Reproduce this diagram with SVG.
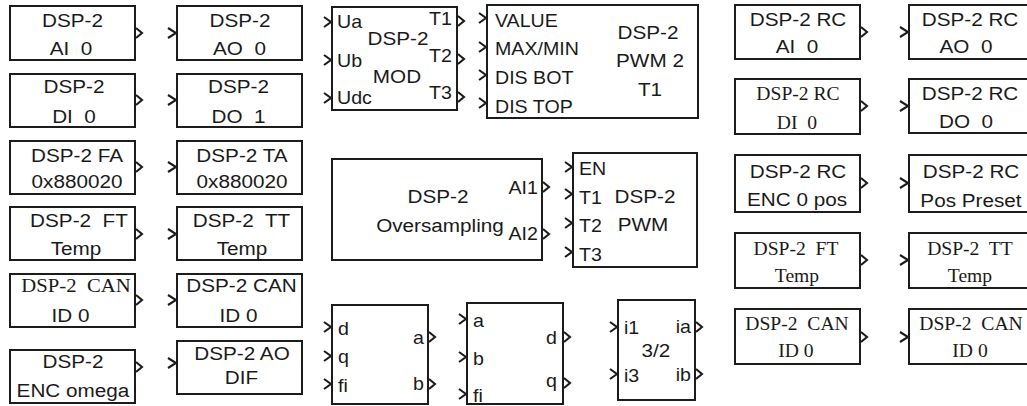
<svg xmlns="http://www.w3.org/2000/svg" width="1027" height="406" viewBox="0 0 1027 406">
<style>
.b{fill:#fff;stroke:#1c1c1c;stroke-width:2}
.p{fill:none;stroke:#1c1c1c;stroke-width:2.1}
text{fill:#1a1a1a;transform-box:fill-box;white-space:pre}
.s{font-family:"Liberation Sans",Arial,sans-serif;font-size:19px}
.r{font-family:"Liberation Serif","Times New Roman",serif;font-size:18px}
.r19{font-family:"Liberation Serif","Times New Roman",serif;font-size:19px}
.q{font-family:"Liberation Sans",Arial,sans-serif;font-size:18px}
.m{text-anchor:middle;transform-origin:center;transform:scaleX(1.09)}
.l{transform-origin:left;transform:scaleX(1.09)}
.e{text-anchor:end;transform-origin:right;transform:scaleX(1.09)}
</style>
<rect width="1027" height="406" fill="#fff"/>
<g id="connectors"/>

<g id="dsp2-ai0">
<rect class="b" x="10" y="6" width="125" height="54"/>
<text class="s m" x="72.5" y="27">DSP-2</text>
<text class="s m" x="71" y="55" xml:space="preserve">AI  0</text>
<path class="p" d="M136 28 L142 33 L136 38"/>
</g>
<g id="dsp2-ao0">
<rect class="b" x="177" y="6" width="125" height="54"/>
<text class="s m" x="240" y="27">DSP-2</text>
<text class="s m" x="239.5" y="55" xml:space="preserve">AO  0</text>
<path class="p" d="M168 28 L176 33 L168 38"/>
</g>
<g id="dsp2-di0">
<rect class="b" x="10" y="74" width="125" height="53"/>
<text class="s m" x="74" y="93">DSP-2</text>
<text class="s m" x="74" y="123" xml:space="preserve">DI  0</text>
<path class="p" d="M136 95 L142 100 L136 105"/>
</g>
<g id="dsp2-do1">
<rect class="b" x="177" y="74" width="125" height="53"/>
<text class="s m" x="238.5" y="93">DSP-2</text>
<text class="s m" x="238.5" y="123" xml:space="preserve">DO  1</text>
<path class="p" d="M168 95 L176 100 L168 105"/>
</g>
<g id="dsp2-fa">
<rect class="b" x="10" y="141" width="125" height="53"/>
<text class="s m" x="77" y="162">DSP-2 FA</text>
<text class="s m" x="77" y="188">0x880020</text>
<path class="p" d="M136 162 L142 167 L136 172"/>
</g>
<g id="dsp2-ta">
<rect class="b" x="177" y="141" width="125" height="53"/>
<text class="s m" x="242" y="162">DSP-2 TA</text>
<text class="s m" x="242" y="188">0x880020</text>
<path class="p" d="M168 162 L176 167 L168 172"/>
</g>
<g id="dsp2-ft">
<rect class="b" x="10" y="207" width="125" height="53"/>
<text class="s m" x="79" y="227" xml:space="preserve">DSP-2  FT</text>
<text class="s m" x="76" y="255">Temp</text>
<path class="p" d="M136 229 L142 234 L136 239"/>
</g>
<g id="dsp2-tt">
<rect class="b" x="177" y="207" width="125" height="53"/>
<text class="s m" x="241.5" y="227" xml:space="preserve">DSP-2  TT</text>
<text class="s m" x="242" y="255">Temp</text>
<path class="p" d="M168 229 L176 234 L168 239"/>
</g>
<g id="dsp2-can-a">
<rect class="b" x="10" y="274" width="125" height="53"/>
<text class="r19 m" x="76" y="292" xml:space="preserve">DSP-2  CAN</text>
<text class="s m" x="70.5" y="322">ID 0</text>
<path class="p" d="M136 295 L142 300 L136 305"/>
</g>
<g id="dsp2-can-b">
<rect class="b" x="177" y="274" width="125" height="53"/>
<text class="s m" x="241.5" y="292">DSP-2 CAN</text>
<text class="s m" x="238.5" y="322">ID 0</text>
<path class="p" d="M168 295 L176 300 L168 305"/>
</g>
<g id="dsp2-enc-omega">
<rect class="b" x="10" y="350" width="125" height="53"/>
<text class="s m" x="73" y="368">DSP-2</text>
<text class="s m" x="73" y="397">ENC omega</text>
<path class="p" d="M136 362 L142 367 L136 372"/>
</g>
<g id="dsp2-ao-dif">
<rect class="b" x="177" y="341" width="125" height="53"/>
<text class="s m" x="242" y="360">DSP-2 AO</text>
<text class="s m" x="241.5" y="384">DIF</text>
<path class="p" d="M168 358 L176 363 L168 368"/>
</g>

<g id="dsp2-mod">
<rect class="b" x="332" y="7" width="125" height="103"/>
<text class="q l" x="337" y="28">Ua</text>
<text class="q l" x="337" y="67">Ub</text>
<text class="q l" x="337" y="104">Udc</text>
<text class="q e" x="452" y="25">T1</text>
<text class="q e" x="452" y="62">T2</text>
<text class="q e" x="452" y="99">T3</text>
<text class="s m" x="398" y="45">DSP-2</text>
<text class="s m" x="397" y="83">MOD</text>
<path class="p" d="M324 17 L331 22 L324 27 M324 55 L331 60 L324 65 M324 93 L331 98 L324 103"/>
<path class="p" d="M458 16 L464 21 L458 26 M458 54 L464 59 L458 64 M458 92 L464 97 L458 102"/>
</g>

<g id="dsp2-pwm2-t1">
<rect class="b" x="487" y="5" width="211" height="113"/>
<text class="q l" x="495" y="27">VALUE</text>
<text class="q l" x="495" y="55">MAX/MIN</text>
<text class="q l" x="495" y="84">DIS BOT</text>
<text class="q l" x="495" y="113">DIS TOP</text>
<text class="s m" x="648" y="39">DSP-2</text>
<text class="s m" x="650" y="67">PWM 2</text>
<text class="s m" x="650" y="96">T1</text>
<path class="p" d="M479 13 L486 18 L479 23 M479 42 L486 47 L479 52 M479 70 L486 75 L479 80 M479 98 L486 103 L479 108"/>
</g>

<g id="dsp2-oversampling">
<rect class="b" x="332" y="159" width="210" height="101"/>
<text class="s m" x="438" y="203">DSP-2</text>
<text class="s m" x="440" y="232">Oversampling</text>
<text class="q e" x="538" y="194">AI1</text>
<text class="q e" x="538" y="240">AI2</text>
<path class="p" d="M543 182 L549 187 L543 192 M543 229 L549 234 L543 239"/>
</g>

<g id="dsp2-pwm">
<rect class="b" x="573" y="153" width="124" height="114"/>
<text class="q l" x="579" y="175">EN</text>
<text class="q l" x="579" y="204">T1</text>
<text class="q l" x="579" y="232">T2</text>
<text class="q l" x="579" y="261">T3</text>
<text class="s m" x="645" y="203">DSP-2</text>
<text class="s m" x="643" y="231">PWM</text>
<path class="p" d="M565 162 L572 167 L565 172 M565 189 L572 194 L565 199 M565 218 L572 223 L565 228 M565 247 L572 252 L565 257"/>
</g>

<g id="dq-to-ab">
<rect class="b" x="332" y="305" width="96" height="99"/>
<text class="q l" x="338" y="335">d</text>
<text class="q l" x="338" y="363">q</text>
<text class="q l" x="338" y="392">fi</text>
<text class="q e" x="424" y="344">a</text>
<text class="q e" x="424" y="390">b</text>
<path class="p" d="M324 322 L331 327 L324 332 M324 351 L331 356 L324 361 M324 379 L331 384 L324 389"/>
<path class="p" d="M429 332 L435 337 L429 342 M429 379 L435 384 L429 389"/>
</g>

<g id="ab-to-dq">
<rect class="b" x="467" y="303" width="96" height="101"/>
<text class="q l" x="473" y="327">a</text>
<text class="q l" x="473" y="365">b</text>
<text class="q l" x="473" y="402">fi</text>
<text class="q e" x="557" y="344">d</text>
<text class="q e" x="557" y="387">q</text>
<path class="p" d="M459 314 L466 319 L459 324 M459 352 L466 357 L459 362 M459 389 L466 394 L459 399"/>
<path class="p" d="M564 332 L570 337 L564 342 M564 378 L570 383 L564 388"/>
</g>

<g id="conv-3-2">
<rect class="b" x="618" y="300" width="77" height="100"/>
<text class="q l" x="624" y="334">i1</text>
<text class="q l" x="624" y="382">i3</text>
<text class="q e" x="691" y="333">ia</text>
<text class="q e" x="691" y="381">ib</text>
<text class="s m" x="656" y="357">3/2</text>
<path class="p" d="M610 322 L617 327 L610 332 M610 369 L617 374 L610 379"/>
<path class="p" d="M696 322 L702 327 L696 332 M696 369 L702 374 L696 379"/>
</g>

<g id="rc-ai0">
<rect class="b" x="735" y="5" width="125" height="54"/>
<text class="s m" x="798" y="26">DSP-2 RC</text>
<text class="s m" x="797" y="53" xml:space="preserve">AI  0</text>
<path class="p" d="M861 27 L867 32 L861 37"/>
</g>
<g id="rc-ao0">
<rect class="b" x="909" y="5" width="125" height="54"/>
<text class="s m" x="970" y="26">DSP-2 RC</text>
<text class="s m" x="966" y="53" xml:space="preserve">AO  0</text>
<path class="p" d="M900 27 L908 32 L900 37"/>
</g>
<g id="rc-di0">
<rect class="b" x="735" y="79" width="125" height="55"/>
<text class="r m" x="798" y="100">DSP-2 RC</text>
<text class="r m" x="797" y="129" xml:space="preserve">DI  0</text>
<path class="p" d="M861 101 L867 106 L861 111"/>
</g>
<g id="rc-do0">
<rect class="b" x="909" y="79" width="125" height="54"/>
<text class="s m" x="970" y="100">DSP-2 RC</text>
<text class="s m" x="966" y="128" xml:space="preserve">DO  0</text>
<path class="p" d="M900 101 L908 106 L900 111"/>
</g>
<g id="rc-enc0pos">
<rect class="b" x="735" y="155" width="125" height="57"/>
<text class="s m" x="798" y="178">DSP-2 RC</text>
<text class="s m" x="797" y="206">ENC 0 pos</text>
<path class="p" d="M861 178 L867 183 L861 188"/>
</g>
<g id="rc-pospreset">
<rect class="b" x="909" y="155" width="125" height="57"/>
<text class="s m" x="971" y="178">DSP-2 RC</text>
<text class="s m" x="971" y="207">Pos Preset</text>
<path class="p" d="M900 178 L908 183 L900 188"/>
</g>
<g id="rc-ft">
<rect class="b" x="735" y="233" width="125" height="55"/>
<text class="r m" x="796" y="255" xml:space="preserve">DSP-2  FT</text>
<text class="r m" x="797" y="282">Temp</text>
<path class="p" d="M861 255 L867 260 L861 265"/>
</g>
<g id="rc-tt">
<rect class="b" x="909" y="233" width="125" height="55"/>
<text class="r m" x="970" y="255" xml:space="preserve">DSP-2  TT</text>
<text class="r m" x="970" y="282">Temp</text>
<path class="p" d="M900 255 L908 260 L900 265"/>
</g>
<g id="rc-can-c">
<rect class="b" x="735" y="309" width="125" height="55"/>
<text class="r m" x="797" y="330" xml:space="preserve">DSP-2  CAN</text>
<text class="r m" x="796" y="357">ID 0</text>
<path class="p" d="M861 332 L867 337 L861 342"/>
</g>
<g id="rc-can-d">
<rect class="b" x="909" y="309" width="125" height="55"/>
<text class="r m" x="971" y="330" xml:space="preserve">DSP-2  CAN</text>
<text class="r m" x="970" y="357">ID 0</text>
<path class="p" d="M900 332 L908 337 L900 342"/>
</g>
</svg>
